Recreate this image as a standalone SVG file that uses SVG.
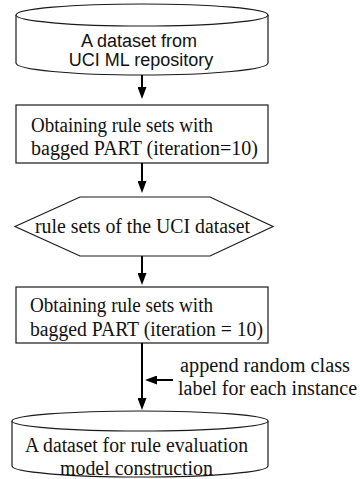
<svg xmlns="http://www.w3.org/2000/svg" width="360" height="479" viewBox="0 0 360 479">
<style>
.shape{fill:#fff;stroke:#1a1a1a;stroke-width:1.2}
.sans{font-family:"Liberation Sans",Arial,sans-serif;font-size:18px;fill:#111}
.serif{font-family:"Liberation Serif","Times New Roman",serif;font-size:20px;fill:#111}
.conn{stroke:#000;stroke-width:2;fill:none;marker-end:url(#ah)}
</style>
<defs>
<marker id="ah" markerUnits="userSpaceOnUse" viewBox="0 0 12 9" markerWidth="12" markerHeight="9" refX="6" refY="4.5" orient="auto">
<path d="M0,0 L12,4.5 L0,9 z" fill="#000"/>
</marker>
</defs>
<rect width="360" height="479" fill="#fff"/>
<g id="node-uci-dataset">
<path class="shape" d="M16,15 L16,63 A126,12 0 0 0 268,63 L268,15"/>
<ellipse class="shape" cx="142" cy="15" rx="126" ry="11"/>
<text class="sans" x="139" y="47" text-anchor="middle">A dataset from</text>
<text class="sans" x="141" y="66" text-anchor="middle">UCI ML repository</text>
</g>
<g id="node-bagged-part-1">
<rect class="shape" x="16" y="105" width="252" height="58"/>
<text class="serif" x="31" y="132" textLength="182" lengthAdjust="spacingAndGlyphs">Obtaining rule sets with</text>
<text class="serif" x="31" y="155" textLength="227" lengthAdjust="spacingAndGlyphs">bagged PART (iteration=10)</text>
</g>
<g id="node-rule-sets">
<polygon class="shape" points="15,226.5 80,197 210,197 273,226.5 210,256 80,256"/>
<text class="serif" x="35" y="233" textLength="215" lengthAdjust="spacingAndGlyphs">rule sets of the UCI dataset</text>
</g>
<g id="node-bagged-part-2">
<rect class="shape" x="16" y="287" width="252" height="56"/>
<text class="serif" x="30" y="312" textLength="183" lengthAdjust="spacingAndGlyphs">Obtaining rule sets with</text>
<text class="serif" x="30" y="336" textLength="233" lengthAdjust="spacingAndGlyphs">bagged PART (iteration = 10)</text>
</g>
<g id="node-eval-dataset">
<path class="shape" d="M12,421 L12,466 A128,11 0 0 0 268,466 L268,421"/>
<ellipse class="shape" cx="140" cy="421" rx="128" ry="10"/>
<text class="serif" x="25" y="452" textLength="223" lengthAdjust="spacingAndGlyphs">A dataset for rule evaluation</text>
<text class="serif" x="60" y="475" textLength="153" lengthAdjust="spacingAndGlyphs">model construction</text>
</g>
<g id="label-append">
<text class="serif" x="180" y="372" textLength="170" lengthAdjust="spacingAndGlyphs">append random class</text>
<text class="serif" x="178" y="395" textLength="179" lengthAdjust="spacingAndGlyphs">label for each instance</text>
</g>
<g id="connectors">
<line class="conn" x1="142" y1="75" x2="142" y2="93"/>
<line class="conn" x1="142" y1="163" x2="142" y2="187"/>
<line class="conn" x1="142" y1="256" x2="142" y2="279"/>
<line class="conn" x1="142" y1="343" x2="142" y2="404"/>
<line class="conn" x1="173" y1="380" x2="151" y2="380"/>
</g>
</svg>
